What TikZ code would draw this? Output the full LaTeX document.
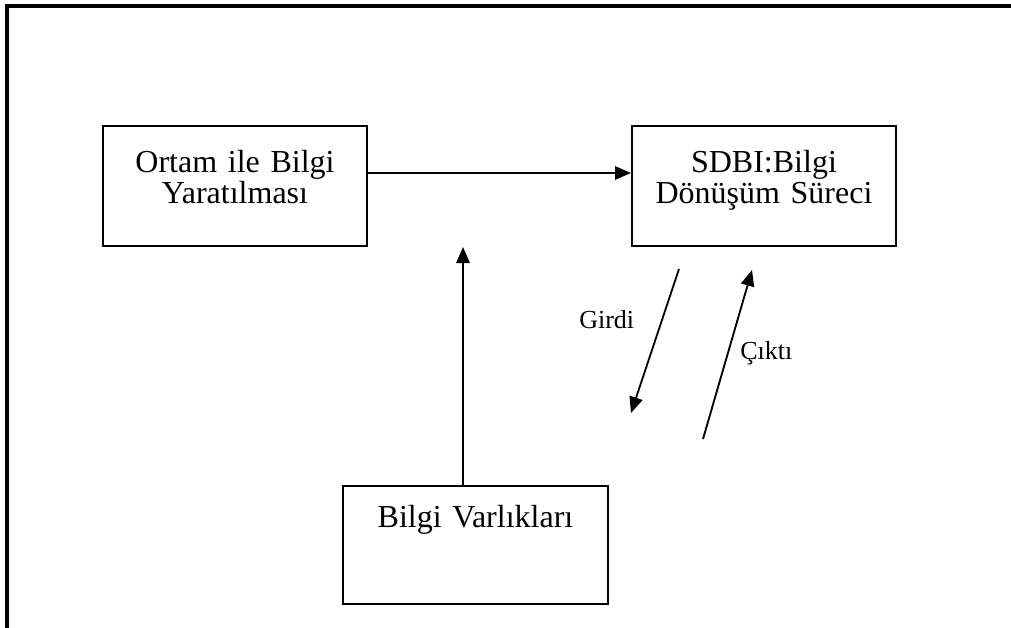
\documentclass[tikz,border=0pt]{standalone}
\usepackage{fontspec}
\setmainfont{Liberation Serif}
\usetikzlibrary{arrows.meta}
\begin{document}
\begin{tikzpicture}[x=0.75pt,y=-0.75pt,
  frame/.style={line width=2.4pt},
  box/.style={draw,line width=1.5pt,rectangle,inner sep=0pt},
  boxtext/.style={inner sep=0pt,anchor=base,text width=250*0.75pt,align=center,
    font=\fontsize{24}{23.8}\selectfont},
  lbl/.style={inner sep=0pt,anchor=base west,font=\fontsize{19.5}{20}\selectfont},
  arr/.style={line width=1.4pt,-{Triangle[length=12pt,width=10pt]}}]
\useasboundingbox (0,0) rectangle (1011,628);
% open page frame
\draw[frame] (7,628) -- (7,6) -- (1011,6);
% boxes
\node[box,minimum width=264*0.75pt,minimum height=120*0.75pt] (ortam) at (235,186) {};
\node[box,minimum width=264*0.75pt,minimum height=120*0.75pt] (sdbi) at (764,186) {};
\node[box,minimum width=265*0.75pt,minimum height=118*0.75pt] (varlik) at (475.5,545) {};
% box texts
\node[boxtext] (ortamt) at (235,172) {Ortam ile Bilgi\\Yaratılması};
\node[boxtext] (sdbit) at (764,172) {SDBI:Bilgi\\Dönüşüm Süreci};
\node[boxtext] (varlikt) at (475.5,527) {Bilgi Varlıkları};
% connectors
\coordinate (hy) at (0,173);
\draw[arr] (ortam.east |- hy) -- (sdbi.west |- hy);
\coordinate (up) at (463,247);
\draw[arr] (varlik.north -| up) -- (up);
\coordinate (g1) at (679,269);
\coordinate (g2) at (631,413);
\draw[arr] (g1) -- (g2);
\coordinate (c1) at (703,439);
\coordinate (c2) at (752,270);
\draw[arr] (c1) -- (c2);
% arrow labels
\node[lbl] (girdi) at (579,328) {Girdi};
\node[lbl] (cikti) at (740,359) {Çıktı};
\end{tikzpicture}
\end{document}
